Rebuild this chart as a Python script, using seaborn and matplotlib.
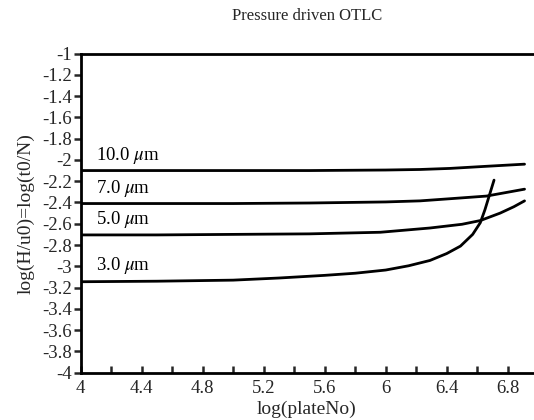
import matplotlib
matplotlib.use("Agg")
import matplotlib.pyplot as plt
import seaborn as sns
import pandas as pd
import numpy as np

# Data
x_10 = [4.0, 4.5, 5.0, 5.5, 6.0, 6.225, 6.42, 6.66, 6.91]
y_10 = [-2.10, -2.10, -2.10, -2.10, -2.095, -2.09, -2.08, -2.06, -2.04]

x_7 = [4.0, 4.5, 5.0, 5.5, 6.0, 6.225, 6.42, 6.66, 6.91]
y_7 = [-2.41, -2.41, -2.41, -2.405, -2.395, -2.385, -2.365, -2.34, -2.275]

x_5 = [4.0, 4.5, 5.0, 5.5, 5.965, 6.29, 6.5, 6.62, 6.75, 6.84, 6.91]
y_5 = [-2.705, -2.705, -2.70, -2.695, -2.68, -2.64, -2.605, -2.57, -2.50, -2.44, -2.385]

x_3 = [4.0, 4.5, 5.0, 5.3, 5.6, 5.8, 6.0, 6.15, 6.29, 6.4, 6.49, 6.57, 6.62, 6.65, 6.68, 6.71]
y_3 = [-3.145, -3.14, -3.13, -3.11, -3.085, -3.065, -3.035, -2.995, -2.945, -2.88, -2.81, -2.70, -2.59, -2.47, -2.33, -2.19]

series_names = ["10.0 $\\mu$m", "7.0 $\\mu$m", "5.0 $\\mu$m", "3.0 $\\mu$m"]
label_x = [4.1, 4.1, 4.1, 4.1]
label_y = [-1.955, -2.265, -2.56, -2.995]

x_ticks = [4, 4.4, 4.8, 5.2, 5.6, 6, 6.4, 6.8]
y_ticks = [-1, -1.2, -1.4, -1.6, -1.8, -2, -2.2, -2.4, -2.6, -2.8, -3, -3.2, -3.4, -3.6, -3.8, -4]

frames = []
for name, xs, ys in zip(series_names, [x_10, x_7, x_5, x_3], [y_10, y_7, y_5, y_3]):
    frames.append(pd.DataFrame({"x": xs, "y": ys, "series": name}))
df = pd.concat(frames, ignore_index=True)

sns.set_theme(style="white")
plt.rcParams["font.family"] = ["Liberation Serif", "DejaVu Serif"]
plt.rcParams["mathtext.fontset"] = "stix"

fig = plt.figure(figsize=(5.34, 4.2), dpi=100)
ax = fig.add_axes([0.151, 0.1126, 0.847, 0.76])

sns.lineplot(data=df, x="x", y="y", hue="series", units="series", estimator=None,
             palette=["black"] * 4, legend=False, linewidth=2.0, sort=False, ax=ax)

for name, lx, ly in zip(series_names, label_x, label_y):
    ax.text(lx, ly, name, fontsize=13.5, va="center", ha="left", color="black")

ax.set_xlim(4, 6.965)
ax.set_ylim(-4, -1)
ax.set_xticks(x_ticks)
ax.set_xticklabels([f"{v:g}" for v in x_ticks])
ax.set_xticks(np.arange(4.2, 7.0, 0.4), minor=True)
ax.set_yticks(y_ticks)
ax.set_yticklabels([f"{v:g}" for v in y_ticks])

ax.tick_params(axis="x", which="both", direction="in", length=5, width=1.8,
               labelsize=13.5, pad=5, bottom=True, top=False)
ax.tick_params(axis="y", which="both", direction="out", length=5, width=1.8,
               labelsize=13.5, pad=1, left=True, right=False)

for s in ["left", "bottom", "top"]:
    ax.spines[s].set_color("black")
    ax.spines[s].set_linewidth(2.0)
ax.spines["right"].set_visible(False)

ax.set_xlabel("log(plateNo)", fontsize=14, labelpad=3)
ax.set_ylabel("log(H/u0)=log(t0/N)", fontsize=14, labelpad=6)
ax.set_title("Pressure driven OTLC", fontsize=12, pad=24)
ax.grid(False)

fig.savefig("out.png", dpi=100)
